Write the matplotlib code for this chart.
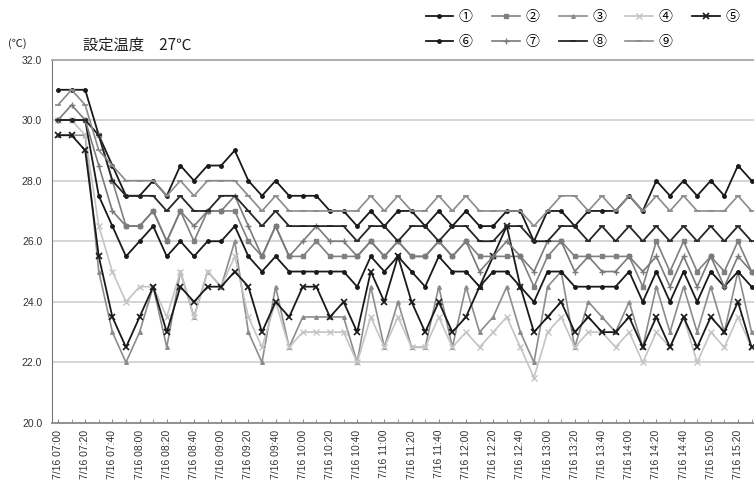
import matplotlib
matplotlib.use("Agg")
import matplotlib.pyplot as plt

# 10-minute readings, 7/16 07:00 - 15:30
times = ["07:00", "07:10", "07:20", "07:30", "07:40", "07:50", "08:00", "08:10", "08:20", "08:30",
         "08:40", "08:50", "09:00", "09:10", "09:20", "09:30", "09:40", "09:50", "10:00", "10:10",
         "10:20", "10:30", "10:40", "10:50", "11:00", "11:10", "11:20", "11:30", "11:40", "11:50",
         "12:00", "12:10", "12:20", "12:30", "12:40", "12:50", "13:00", "13:10", "13:20", "13:30",
         "13:40", "13:50", "14:00", "14:10", "14:20", "14:30", "14:40", "14:50", "15:00", "15:10",
         "15:20", "15:30"]
date_label = "7/16"

s1 = [31, 31, 31, 29.5, 28.5, 27.5, 27.5, 28, 27.5, 28.5,
      28, 28.5, 28.5, 29, 28, 27.5, 28, 27.5, 27.5, 27.5,
      27, 27, 26.5, 27, 26.5, 27, 27, 26.5, 27, 26.5,
      27, 26.5, 26.5, 27, 27, 26, 27, 27, 26.5, 27,
      27, 27, 27.5, 27, 28, 27.5, 28, 27.5, 28, 27.5,
      28.5, 28]
s2 = [30, 30, 30, 29.5, 28, 26.5, 26.5, 27, 26, 27,
      26, 27, 27, 27, 26, 25.5, 26.5, 25.5, 25.5, 26,
      25.5, 25.5, 25.5, 26, 25.5, 26, 25.5, 25.5, 26, 25.5,
      26, 25.5, 25.5, 25.5, 25.5, 24.5, 25.5, 26, 25.5, 25.5,
      25.5, 25.5, 25.5, 24.5, 26, 25, 26, 25, 25.5, 25,
      26, 25]
s3 = [29.5, 29.5, 29.5, 25, 23, 22, 23, 24.5, 22.5, 25,
      23.5, 25, 24.5, 26, 23, 22, 24.5, 22.5, 23.5, 23.5,
      23.5, 23.5, 22, 24.5, 22.5, 24, 22.5, 22.5, 24.5, 22.5,
      24.5, 23, 23.5, 24.5, 23, 22, 24.5, 25, 22.5, 24,
      23.5, 23, 24, 22.5, 24.5, 23, 24.5, 23, 24.5, 23,
      25, 23]
s4 = [30, 30, 29.5, 26.5, 25, 24, 24.5, 24.5, 23.5, 25,
      23.5, 25, 24.5, 25.5, 23.5, 22.5, 24, 22.5, 23, 23,
      23, 23, 22, 23.5, 22.5, 23.5, 22.5, 22.5, 23.5, 22.5,
      23, 22.5, 23, 23.5, 22.5, 21.5, 23, 23.5, 22.5, 23,
      23, 22.5, 23, 22, 23, 22.5, 23.5, 22, 23, 22.5,
      23.5, 22.5]
s5 = [29.5, 29.5, 29, 25.5, 23.5, 22.5, 23.5, 24.5, 23, 24.5,
      24, 24.5, 24.5, 25, 24.5, 23, 24, 23.5, 24.5, 24.5,
      23.5, 24, 23, 25, 24, 25.5, 24, 23, 24, 23,
      23.5, 24.5, 25.5, 26.5, 24.5, 23, 23.5, 24, 23, 23.5,
      23, 23, 23.5, 22.5, 23.5, 22.5, 23.5, 22.5, 23.5, 23,
      24, 22.5]
s6 = [30, 30, 30, 27.5, 26.5, 25.5, 26, 26.5, 25.5, 26,
      25.5, 26, 26, 26.5, 25.5, 25, 25.5, 25, 25, 25,
      25, 25, 24.5, 25.5, 25, 25.5, 25, 24.5, 25.5, 25,
      25, 24.5, 25, 25, 24.5, 24, 25, 25, 24.5, 24.5,
      24.5, 24.5, 25, 24, 25, 24, 25, 24, 25, 24.5,
      25, 24.5]
s7 = [30, 30.5, 30, 28.5, 27, 26.5, 26.5, 27, 26, 27,
      26.5, 27, 27, 27.5, 26.5, 25.5, 26.5, 25.5, 26, 26.5,
      26, 26, 25.5, 26, 25.5, 26, 25.5, 25.5, 26, 25.5,
      26, 25, 25.5, 26, 25.5, 25, 26, 26, 25, 25.5,
      25, 25, 25.5, 25, 25.5, 24.5, 25.5, 24.5, 25.5, 24.5,
      25.5, 25]
s8 = [30, 30, 30, 29.5, 28, 27.5, 27.5, 27.5, 27, 27.5,
      27, 27, 27.5, 27.5, 27, 26.5, 27, 26.5, 26.5, 26.5,
      26.5, 26.5, 26, 26.5, 26.5, 26, 26.5, 26.5, 26, 26.5,
      26.5, 26, 26, 26.5, 26.5, 26, 26, 26.5, 26.5, 26,
      26.5, 26, 26.5, 26, 26.5, 26, 26.5, 26, 26.5, 26,
      26.5, 26]
s9 = [30.5, 31, 30.5, 29, 28.5, 28, 28, 28, 27.5, 28,
      27.5, 28, 28, 28, 27.5, 27, 27.5, 27, 27, 27,
      27, 27, 27, 27.5, 27, 27.5, 27, 27, 27.5, 27,
      27.5, 27, 27, 27, 27, 26.5, 27, 27.5, 27.5, 27,
      27.5, 27, 27.5, 27, 27.5, 27, 27.5, 27, 27, 27,
      27.5, 27]

names = ["①", "②", "③", "④", "⑤", "⑥", "⑦", "⑧", "⑨"]
series = [s1, s2, s3, s4, s5, s6, s7, s8, s9]
styles = [
    dict(color="#1a1a1a", marker="o", ms=2.5, lw=1.3),
    dict(color="#808080", marker="s", ms=2.2, lw=1.2),
    dict(color="#8c8c8c", marker="^", ms=2.6, lw=1.2),
    dict(color="#c4c4c4", marker="x", ms=4.0, lw=1.2, mew=1.0),
    dict(color="#1a1a1a", marker="x", ms=4.2, lw=1.3, mew=1.2),
    dict(color="#1a1a1a", marker="o", ms=2.5, lw=1.3),
    dict(color="#7a7a7a", marker="+", ms=4.5, lw=1.2, mew=1.0),
    dict(color="#262626", marker="_", ms=4.5, lw=1.3, mew=1.2),
    dict(color="#8a8a8a", marker="_", ms=4.5, lw=1.2, mew=1.2),
]

fig = plt.figure(figsize=(7.54, 4.91), dpi=100)
W, H = 754, 491
ax = fig.add_axes([52 / W, 1 - 423 / H, (W - 52) / W, (423 - 59.5) / H])

x = list(range(len(times)))
handles = []
for name, vals, st in zip(names, series, styles):
    (h,) = ax.plot(x, vals, label=name, **st)
    handles.append(h)

ax.set_xlim(-0.44, 51.18)
ax.set_ylim(20, 32)
yt = [20, 22, 24, 26, 28, 30, 32]
ax.set_yticks(yt)
ax.set_yticklabels([f"{v:.1f}" for v in yt],
                   fontsize=7.5, family="Liberation Sans", color="#333333")
ax.tick_params(axis="y", length=0, pad=7)
ax.grid(axis="y", color="#d2d2d2", lw=1.3)
ax.set_axisbelow(True)

ax.set_xticks(x, minor=True)
ax.set_xticks(x[::2])
ax.set_xticklabels([f"{date_label} {t}" for t in times[::2]], rotation=90,
                   fontsize=7.5, family="Liberation Sans", color="#333333")
ax.tick_params(axis="x", which="both", direction="in", length=3, color="#888888", pad=5)

ax.spines["right"].set_visible(False)
ax.spines["top"].set_color("#a8a8a8")
ax.spines["top"].set_linewidth(1.3)
ax.spines["left"].set_color("#777777")
ax.spines["bottom"].set_color("#8a8a8a")
ax.spines["bottom"].set_linewidth(1.3)

fig.text(8 / W, 1 - 44 / H, "(℃)", fontsize=8, family=["Noto Sans CJK JP", "DejaVu Sans"],
         va="center", ha="left", color="#222222")
fig.text(83 / W, 1 - 45 / H, "設定温度　27℃", fontsize=11,
         family=["Noto Sans CJK JP", "DejaVu Sans"], va="center", ha="left", color="#222222")

order = [0, 5, 1, 6, 2, 7, 3, 8, 4]
leg = fig.legend([handles[i] for i in order], [names[i] for i in order],
                 loc="upper left", bbox_to_anchor=(413 / W, 1 + 3 / H), ncol=5,
                 frameon=False, handlelength=2.0, handletextpad=0.4, columnspacing=1.4,
                 labelspacing=0.8, prop={"family": ["Noto Sans CJK JP", "DejaVu Sans"], "size": 10})

fig.savefig("out.png", dpi=100)
